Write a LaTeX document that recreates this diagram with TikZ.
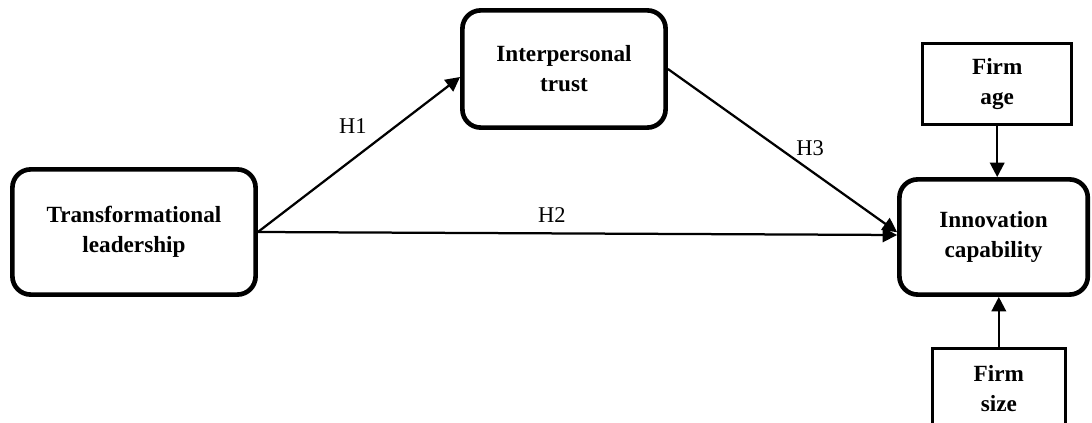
\documentclass[tikz,border=0pt]{standalone}
\usepackage{fontspec}
\setmainfont{Liberation Serif}
\usetikzlibrary{arrows.meta, positioning}

\begin{document}
\begin{tikzpicture}[
    construct/.style={draw, line width=3.3pt, rounded corners=13pt, fill=white,
                      inner sep=0pt, align=center,
                      font=\fontsize{16.5}{21.3}\selectfont\bfseries},
    control/.style={draw, line width=2pt, fill=white, inner sep=0pt,
                    minimum width=3.73cm, minimum height=2.03cm, align=center,
                    font=\fontsize{16.5}{21.3}\selectfont\bfseries},
    fl/.style={-{Triangle[length=3.6mm, width=3.6mm]}, line width=1.6pt},
    lbl/.style={font=\fontsize{16}{19}\selectfont}
]
    \fill[white] (0,0) rectangle (27.3,-10.575);
    \useasboundingbox (0,0) rectangle (27.3,-10.575);

    \node[construct, minimum width=6.08cm, minimum height=3.13cm] (lead) at (3.35,-5.8)
        {Transformational\\leadership};
    \node[construct, minimum width=5.08cm, minimum height=2.93cm] (trust) at (14.1,-1.725)
        {Interpersonal\\trust};
    \node[construct, minimum width=4.71cm, minimum height=2.88cm] (innov) at (24.84,-5.925)
        {Innovation\\capability};
    \node[control, above=1.275cm of innov, xshift=0.09cm] (age) {Firm\\age};
    \node[control, minimum width=3.33cm, below=1.25cm of innov, xshift=0.13cm] (size) {Firm\\size};

    \draw[fl] (lead.east) -- node[lbl, pos=0.47, yshift=0.82cm] (h1) {H1} ([yshift=-0.2cm]trust.west);
    \draw[fl] (lead.east) -- node[lbl, pos=0.46, yshift=0.45cm] (h2) {H2} ([yshift=0.05cm]innov.west);
    \draw[fl] (trust.east) -- node[lbl, pos=0.62, yshift=0.55cm] (h3) {H3} ([yshift=0.12cm]innov.west);
    \draw[fl] (age) -- (age |- innov.north);
    \draw[fl] (size) -- (size |- innov.south);
\end{tikzpicture}
\end{document}
